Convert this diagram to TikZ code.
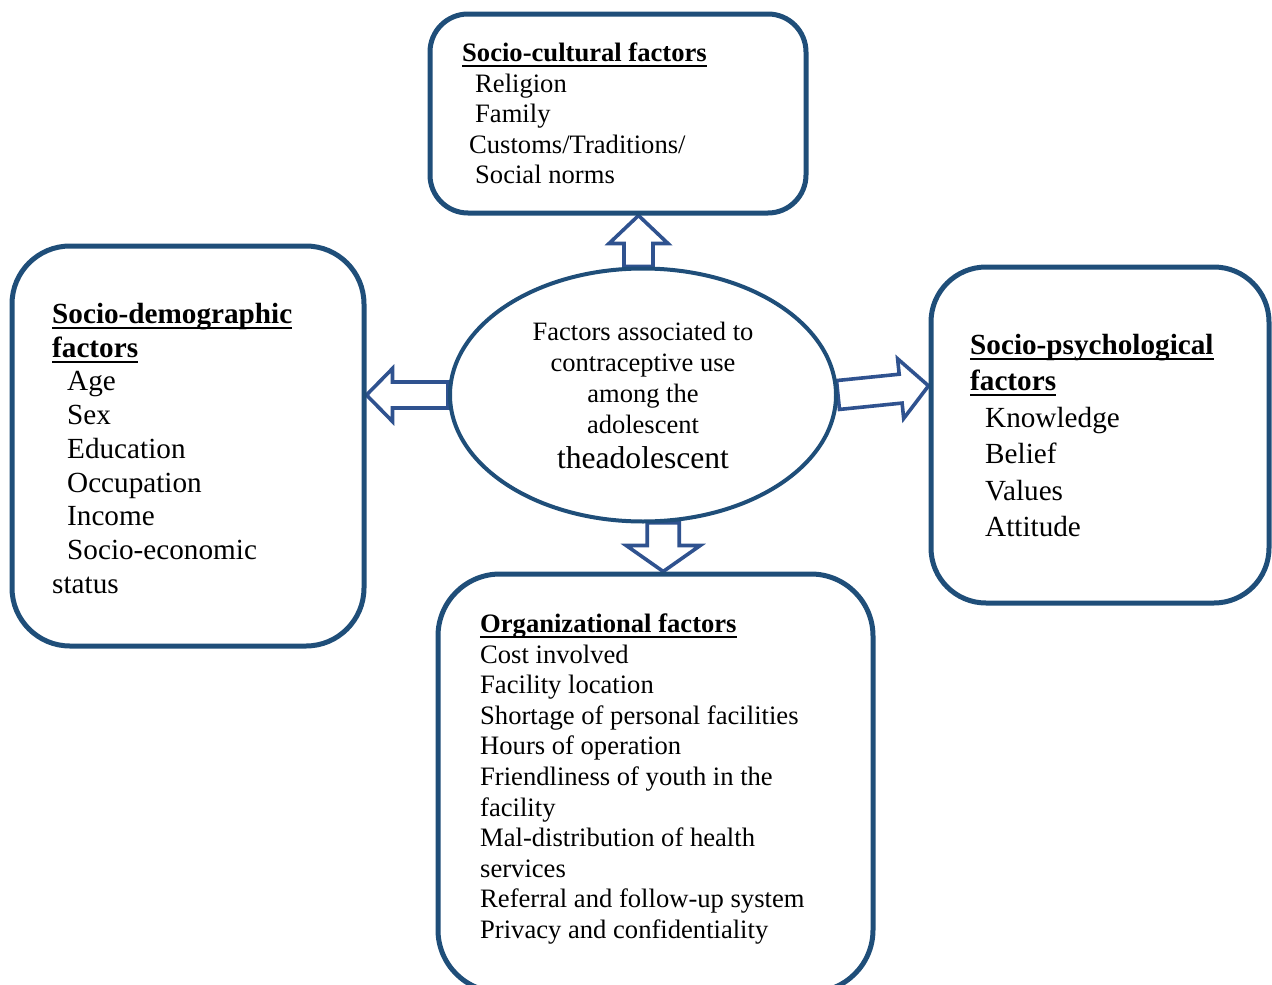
\documentclass[tikz,border=0pt]{standalone}
\usepackage{fontspec}
\setmainfont{Liberation Serif}
\usetikzlibrary{calc,shapes.geometric,backgrounds}

\definecolor{boxblue}{RGB}{31,78,121}
\definecolor{arrowblue}{RGB}{47,82,143}

% bold heading with a Word-like underline
\newcommand{\head}[1]{{\bfseries\setbox0\hbox{#1}\rlap{\rule[-5.5pt]{\wd0}{2pt}}\box0}}

% block arrow: from, to, shaft half width, head half width, head length
\newcommand{\blockarrow}[5]{
  \coordinate (ba-h) at ($(#2)!#5!(#1)$);
  \draw[fatarrow] ($(#1)!#3!90:(#2)$) -- ($(ba-h)!#3!-90:(#1)$)
    -- ($(ba-h)!#4!-90:(#1)$) -- (#2) -- ($(ba-h)!#4!90:(#1)$)
    -- ($(ba-h)!#3!90:(#1)$) -- ($(#1)!#3!-90:(#2)$) -- cycle;
}

\begin{document}
\begin{tikzpicture}[x=1pt,y=-1pt,
    factor/.style={
% The shape:
rectangle,
% The corners:
rounded corners=#1,
% The border:
line width=5pt, draw=boxblue, fill=white,
},
    hub/.style={
% The shape:
ellipse,
% The size:
minimum width=386pt,
minimum height=253pt,
% The border:
line width=4pt, draw=boxblue, fill=white,
align=center, inner sep=2pt,
font=\fontsize{26.5}{31}\selectfont,
},
    factortext/.style={
anchor=north west, inner sep=0pt, align=left,
font=\fontsize{26.6}{30.6}\selectfont,
},
    bigtext/.style={
factortext,
font=\fontsize{29.2}{#1}\selectfont,
},
    fatarrow/.style={
line width=3.6pt, draw=arrowblue, fill=white, line join=miter,
},
]
  \useasboundingbox (0,0) rectangle (1272,985);

  % the boxes
  \node[factor=38pt, minimum width=376pt, minimum height=199pt] (cult) at (618,113.5) {};
  \node[factor=58pt, minimum width=352pt, minimum height=400pt] (demo) at (188,446) {};
  \node[factor=55pt, minimum width=338pt, minimum height=336pt] (psy) at (1100,435) {};
  \node[factor=62pt, minimum width=435pt, minimum height=418pt] (org) at (655.5,783) {};
  \node[hub] (ell) at (643,395) {Factors associated to\\contraceptive use\\among the\\adolescent\\[4pt]{\fontsize{31.6}{36}\selectfont theadolescent}};

  % the texts
  \node[factortext] (cult-t) at (462,42.6) {\head{Socio-cultural factors}\\
    \hspace*{13pt}Religion\\ \hspace*{13pt}Family\\
    \hspace*{7pt}Customs/Traditions/\\ \hspace*{13pt}Social norms};
  \node[bigtext=33.75] (demo-t) at (52,303) {\head{Socio-demographic}\\ \head{factors}\\
    \hspace*{15pt}Age\\ \hspace*{15pt}Sex\\ \hspace*{15pt}Education\\
    \hspace*{15pt}Occupation\\ \hspace*{15pt}Income\\
    \hspace*{15pt}Socio-economic\\ status};
  \node[bigtext=36.4] (psy-t) at (970,334) {\head{Socio-psychological}\\ \head{factors}\\
    \hspace*{15pt}Knowledge\\ \hspace*{15pt}Belief\\
    \hspace*{15pt}Values\\ \hspace*{15pt}Attitude};
  \node[factortext] (org-t) at (480,613.6) {\head{Organizational factors}\\
    Cost involved\\ Facility location\\ Shortage of personal facilities\\
    Hours of operation\\ Friendliness of youth in the\\ facility\\
    Mal-distribution of health\\ services\\ Referral and follow-up system\\
    Privacy and confidentiality};

  % the arrows
  \coordinate (up-s) at (ell.92);
  \coordinate (up-e) at (ell.92 |- cult.south);
  \coordinate (left-e) at (ell.west -| demo.east);
  \coordinate (down-s) at (ell.-81);
  \coordinate (down-e) at (ell.-81 |- org.north);
  \begin{scope}[on background layer]
    \blockarrow{up-s}{up-e}{14.5pt}{29.5pt}{28pt}
    \blockarrow{ell.west}{left-e}{13pt}{26.5pt}{26pt}
    \blockarrow{ell.east}{psy.164}{14.5pt}{30pt}{28pt}
    \blockarrow{down-s}{down-e}{16pt}{37pt}{26pt}
  \end{scope}

\end{tikzpicture}
\end{document}
